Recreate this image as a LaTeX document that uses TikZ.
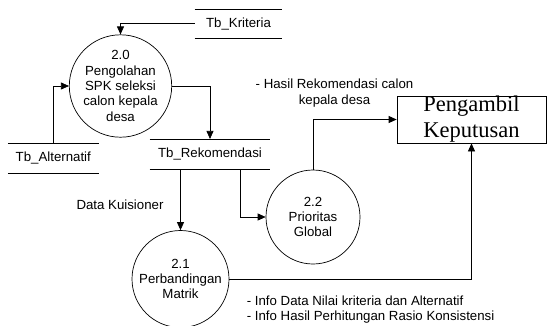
\documentclass[tikz,border=0pt]{standalone}
\usepackage{fontspec}
\setmainfont{Liberation Sans}
\newfontfamily\serifx{Liberation Serif}
\usetikzlibrary{arrows.meta,calc}
\begin{document}
\begin{tikzpicture}[x=1pt,y=-1pt,line width=0.7pt,
  txt/.style={font=\fontsize{13.25}{15.3}\selectfont},
  proc/.style={circle,draw,inner sep=0pt,align=center,txt},
  store/.style={inner sep=0pt,txt},
  pbox/.style={draw,minimum width=149pt,minimum height=47pt,inner sep=0pt,align=center,font=\serifx\fontsize{22.5}{26}\selectfont},
  lbl/.style={inner sep=0pt,txt},
  arr/.style={-{Triangle[length=8pt,width=7pt]}}]
\useasboundingbox (0,0) rectangle (549,325);
% processes
\node[proc,minimum size=98pt] (p20) at (120.5,86) {2.0\\Pengolahan\\SPK seleksi\\calon kepala\\desa};
\node[proc,minimum size=97pt] (p21) at (180.5,279) {2.1\\Perbandingan\\Matrik};
\node[proc,minimum size=94pt] (p22) at (313,217) {2.2\\Prioritas\\Global};
% data stores
\node[store,minimum width=87pt,minimum height=29pt] (tk) at (238.5,23.8) {Tb\_Kriteria};
\node[store,minimum width=90pt,minimum height=30pt] (ta) at (53.3,158.3) {Tb\_Alternatif};
\node[store,minimum width=120pt,minimum height=30pt] (tr) at (210,154.3) {Tb\_Rekomendasi};
\foreach \s in {tk,ta,tr}{
  \draw (\s.north west) -- (\s.north east);
  \draw (\s.south west) -- (\s.south east);
}
% external entity
\node[pbox] (pk) at (471.5,119.5) {Pengambil\\Keputusan};
% flows
\draw[arr] (tk.west) -| (p20.north);
\draw[arr] (ta.north) |- (p20.west);
\draw[arr] (p20.east) -| (tr.north);
\draw[arr] (p21.north |- tr.south) -- (p21.north);
\draw[arr] ($(tr.south)+(30,0)$) |- (p22.west);
\draw[arr] (p22.north) |- (pk.west);
\draw[arr] (p21.east) -| (pk.south);
% labels
\node[lbl,align=center] (l1) at (334.5,93) {- Hasil Rekomendasi calon\\kepala desa};
\node[lbl] (l2) at (120,205) {Data Kuisioner};
\node[lbl,align=left,anchor=west] (l3) at (246.5,309.5) {- Info Data Nilai kriteria dan Alternatif\\- Info Hasil Perhitungan Rasio Konsistensi};
\end{tikzpicture}
\end{document}
